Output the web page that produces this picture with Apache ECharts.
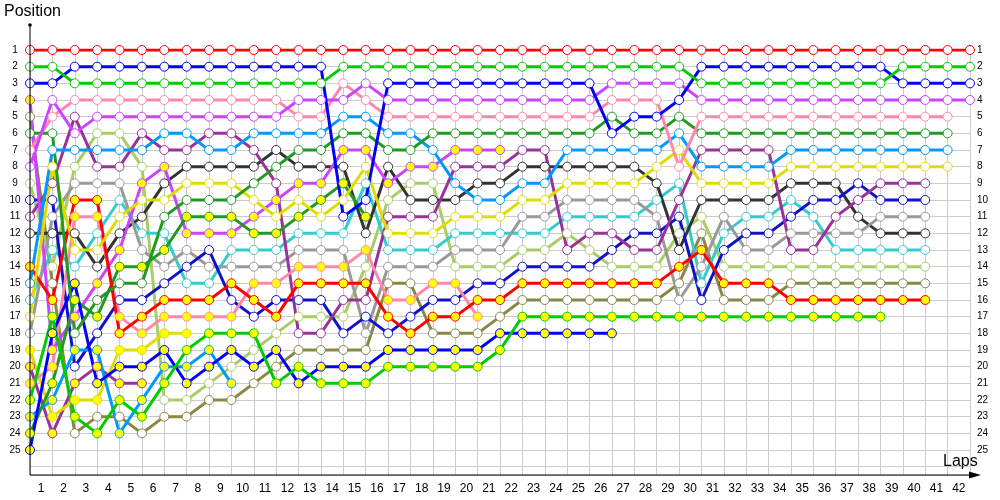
<!DOCTYPE html>
<html>
<head>
<meta charset="utf-8">
<script src="https://cdn.jsdelivr.net/npm/echarts@6/dist/echarts.min.js"></script>
<style>
html,body{margin:0;padding:0;background:#fff;}
#chart{width:1000px;height:500px;}
</style>
</head>
<body>
<div id="chart"></div>
<script>
// Lap tick labels (shown centred in each lap band)
const lapLabels = ['1','2','3','4','5','6','7','8','9','10','11','12','13','14','15','16','17','18','19','20','21','22','23','24','25','26','27','28','29','30','31','32','33','34','35','36','37','38','39','40','41','42'];
// Position tick labels
const posLabels = ['1','2','3','4','5','6','7','8','9','10','11','12','13','14','15','16','17','18','19','20','21','22','23','24','25'];

// Position of each car at the start (index 0) and after every lap
const redW     = [1,1,1,1,1,1,1,1,1,1,1,1,1,1,1,1,1,1,1,1,1,1,1,1,1,1,1,1,1,1,1,1,1,1,1,1,1,1,1,1,1,1,1];
const greenW   = [2,2,3,3,3,3,3,3,3,3,3,3,3,3,2,2,2,2,2,2,2,2,2,2,2,2,2,2,2,2,3,3,3,3,3,3,3,3,3,2,2,2,2];
const blueW    = [3,3,2,2,2,2,2,2,2,2,2,2,2,2,11,10,3,3,3,3,3,3,3,3,3,3,6,5,5,4,2,2,2,2,2,2,2,2,2,3,3,3,3];
const magentaW = [8,4,6,5,5,5,5,5,5,5,5,5,4,4,4,3,4,4,4,4,4,4,4,4,4,4,3,3,3,3,4,4,4,4,4,4,4,4,4,4,4,4,4];
const pinkW    = [7,5,4,4,4,4,4,4,4,4,4,4,5,5,3,4,5,5,5,5,5,5,5,5,5,5,4,4,4,8,5,5,5,5,5,5,5,5,5,5,5,5];
const dkgreenW = [6,6,18,16,15,15,11,10,10,10,9,8,7,7,6,6,7,7,6,6,6,6,6,6,6,6,5,6,6,5,6,6,6,6,6,6,6,6,6,6,6,6];
const ltblueW  = [15,7,7,7,7,7,6,6,7,7,6,6,6,6,5,5,6,6,7,9,10,10,9,9,7,7,7,7,7,6,8,8,8,8,7,7,7,7,7,7,7,7];
const yellowW  = [17,8,13,13,11,10,10,9,9,9,10,11,10,11,10,8,12,12,12,11,11,11,10,10,9,9,9,9,8,7,9,9,9,9,8,8,8,8,8,8,8,8];
const dkpurpleW= [11,9,5,8,8,6,7,7,6,6,7,9,18,18,16,16,11,11,11,8,8,8,7,7,13,12,12,13,13,10,7,7,7,7,13,13,11,10,9,9,9];
const dkblueW  = [10,10,20,18,16,16,15,14,13,16,17,16,16,16,18,17,18,17,16,16,15,15,14,14,14,14,13,12,12,11,16,13,12,12,11,10,10,9,10,10,10];
const grayW    = [18,11,9,9,9,13,14,13,14,14,14,14,13,13,13,18,14,14,14,13,13,13,11,11,10,10,10,10,11,16,14,11,13,13,12,12,12,12,11,11,11];
const blackW   = [12,12,12,14,12,11,9,8,8,8,8,7,8,8,8,12,8,10,10,10,9,9,8,8,8,8,8,8,9,13,10,10,10,10,9,9,9,11,12,12,12];
const cyanW    = [16,13,14,12,10,12,12,15,15,13,13,13,12,12,12,9,13,13,13,12,12,12,12,12,11,11,11,11,10,9,15,12,11,11,10,11,13,13,13,13,13];
const ltgreenW = [9,14,8,6,6,8,22,22,21,20,19,18,17,17,17,14,10,9,9,14,14,14,13,13,12,13,14,14,14,12,11,14,14,14,14,14,14,14,14,14,14];
const oliveW   = [5,15,24,23,23,24,23,23,22,22,21,20,19,19,19,19,15,15,18,18,18,17,16,16,16,16,16,16,16,15,12,16,16,16,15,15,15,15,15,15,15];
const redY     = [14,16,10,10,18,17,16,16,16,15,16,17,15,15,15,15,17,18,17,17,16,16,15,15,15,15,15,15,15,14,13,15,15,15,16,16,16,16,16,16,16];
const greenY   = [22,17,23,24,22,23,21,19,18,18,18,21,20,21,21,21,20,20,20,20,20,19,17,17,17,17,17,17,17,17,17,17,17,17,17,17,17,17,17];
const blueY    = [25,18,15,21,20,20,19,21,20,19,20,19,21,20,20,20,19,19,19,19,19,18,18,18,18,18,18];
const magentaY = [4,19,17,15,13,9,8,12,12,12,11,10,9,9,7,7,9,8,8,7,7,7];
const pinkY    = [21,20,11,11,17,18,17,17,17,17,15,15,14,14,14,13,16,16,15,15,17];
const ltblueY  = [23,22,19,19,24,22,20,20,19,21];
const yellowY  = [19,23,22,22,19,19,18,18];
const dkpurpleY= [20,24,21,20,21,21];
const dkgreenY = [24,21,16,17,14,14,13,11,11,11,12,12,11,10,9,11];

const drivers = [
  {d: oliveW,    c:'#888844', f:'#ffffff'},
  {d: ltgreenW,  c:'#aacc66', f:'#ffffff'},
  {d: cyanW,     c:'#33cccc', f:'#ffffff'},
  {d: blackW,    c:'#333333', f:'#ffffff'},
  {d: grayW,     c:'#999999', f:'#ffffff'},
  {d: dkblueW,   c:'#1111cc', f:'#ffffff'},
  {d: dkpurpleW, c:'#993399', f:'#ffffff'},
  {d: dkpurpleY, c:'#993399', f:'#ffff00'},
  {d: yellowY,   c:'#dddd00', f:'#ffff00'},
  {d: ltblueY,   c:'#0099ff', f:'#ffff00'},
  {d: pinkY,     c:'#ff88aa', f:'#ffff00'},
  {d: magentaY,  c:'#cc44ff', f:'#ffff00'},
  {d: dkgreenY,  c:'#229922', f:'#ffff00'},
  {d: blueY,     c:'#0000ff', f:'#ffff00'},
  {d: greenY,    c:'#00cc00', f:'#ffff00'},
  {d: redY,      c:'#ff0000', f:'#ffff00'},
  {d: yellowW,   c:'#dddd00', f:'#ffffff'},
  {d: ltblueW,   c:'#0099ff', f:'#ffffff'},
  {d: dkgreenW,  c:'#229922', f:'#ffffff'},
  {d: pinkW,     c:'#ff88aa', f:'#ffffff'},
  {d: magentaW,  c:'#cc44ff', f:'#ffffff'},
  {d: blueW,     c:'#0000ff', f:'#ffffff'},
  {d: greenW,    c:'#00cc00', f:'#ffffff'},
  {d: redW,      c:'#ff0000', f:'#ffffff'}
];

const FONT = '"Liberation Sans", Arial, sans-serif';
const chart = echarts.init(document.getElementById('chart'), null, {renderer:'canvas'});

const series = drivers.map(dr => ({
  type: 'line',
  xAxisIndex: 0,
  yAxisIndex: 0,
  data: dr.d.map((v, i) => [i, v]),
  symbol: 'circle',
  symbolSize: 9,
  showSymbol: true,
  lineStyle: {color: dr.c, width: 3},
  itemStyle: {color: dr.f, borderColor: dr.c, borderWidth: 1},
  emphasis: {disabled: true},
  silent: true
}));

chart.setOption({
  animation: false,
  backgroundColor: '#ffffff',
  grid: {left: 30, right: 30, top: 50, bottom: 25},
  xAxis: [
    {
      type: 'value', min: 0, max: 42, interval: 1,
      axisLine: {show: false}, axisTick: {show: false}, axisLabel: {show: false},
      splitLine: {show: true, lineStyle: {color: '#cccccc', width: 1}}
    },
    {
      type: 'category', data: lapLabels, boundaryGap: true, position: 'bottom',
      axisLine: {show: false}, axisTick: {show: false}, splitLine: {show: false},
      axisLabel: {show: true, interval: 0, margin: 8, color: '#000', fontSize: 12, fontFamily: FONT}
    }
  ],
  yAxis: [
    {
      type: 'value', inverse: true, min: 1, max: 26.5, interval: 1, position: 'left',
      axisLine: {show: false}, axisTick: {show: false},
      splitLine: {show: true, lineStyle: {color: '#cccccc', width: 1}},
      axisLabel: {
        show: true, margin: 15, align: 'center', color: '#000', fontSize: 10, fontFamily: FONT,
        formatter: v => (Number.isInteger(v) && v >= 1 && v <= 25) ? posLabels[v - 1] : ''
      }
    },
    {
      type: 'value', inverse: true, min: 1, max: 26.5, interval: 1, position: 'right',
      axisLine: {show: false}, axisTick: {show: false}, splitLine: {show: false},
      axisLabel: {
        show: true, margin: 7, align: 'left', color: '#000', fontSize: 10, fontFamily: FONT,
        formatter: v => (Number.isInteger(v) && v >= 1 && v <= 25) ? posLabels[v - 1] : ''
      }
    }
  ],
  graphic: [
    {type: 'line', z: 100, shape: {x1: 30, y1: 475, x2: 30, y2: 25}, style: {stroke: '#000', lineWidth: 1}},
    {type: 'circle', z: 100, shape: {cx: 30, cy: 25, r: 1.8}, style: {fill: '#000'}},
    {type: 'line', z: 100, shape: {x1: 30, y1: 475, x2: 972, y2: 475}, style: {stroke: '#000', lineWidth: 1}},
    {type: 'polygon', z: 100, shape: {points: [[981, 475], [969, 471.5], [969, 478.5]]}, style: {fill: '#000'}},
    {type: 'text', z: 100, left: 4, top: 4, style: {text: 'Position', fill: '#000', font: '16px ' + FONT}},
    {type: 'text', z: 100, left: 943, top: 454, style: {text: 'Laps', fill: '#000', font: '16px ' + FONT}}
  ],
  series: series
});
</script>
</body>
</html>
